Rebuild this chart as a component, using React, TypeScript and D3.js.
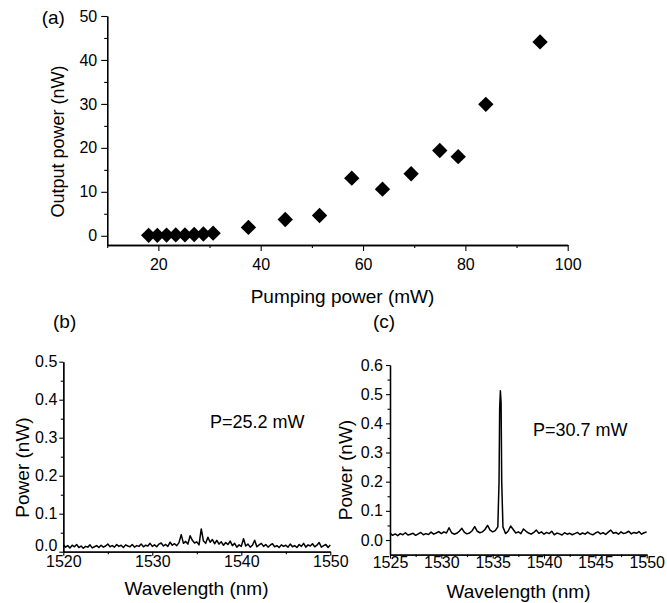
import React, { useEffect, useRef } from "react";
import {
  select,
  scaleLinear,
  axisBottom,
  axisLeft,
  line,
  range,
  symbol,
  symbolSquare,
} from "d3";

// (a) output power vs pumping power
const pumpPower = [18.1, 19.8, 21.6, 23.4, 25.2, 27.0, 28.8, 30.7, 37.6, 44.8, 51.5, 57.8, 63.8, 69.4, 75.0, 78.6, 84.0, 94.6];
const outputPower = [0.1, 0.1, 0.15, 0.2, 0.2, 0.3, 0.4, 0.6, 1.9, 3.7, 4.6, 13.1, 10.6, 14.1, 19.4, 18.0, 29.9, 44.1];

// (b) spectrum at P=25.2 mW, 1520..1550 nm every 0.25 nm
const specBStart = 1520;
const specBStep = 0.25;
const specB = [
  0.018, 0.012, 0.016, 0.010, 0.017, 0.013, 0.019, 0.011, 0.015, 0.009, 0.014, 0.012, 0.018, 0.010, 0.013, 0.016, 0.011, 0.017, 0.012, 0.015,
  0.020, 0.013, 0.016, 0.012, 0.019, 0.014, 0.017, 0.011, 0.018, 0.015, 0.013, 0.019, 0.012, 0.016, 0.014, 0.020, 0.013, 0.017, 0.015, 0.022,
  0.014, 0.018, 0.013, 0.020, 0.023, 0.015, 0.019, 0.014, 0.025, 0.017, 0.021, 0.016, 0.024, 0.045, 0.022, 0.027, 0.020, 0.042, 0.030, 0.023,
  0.026, 0.018, 0.060, 0.028, 0.022, 0.038, 0.025, 0.032, 0.021, 0.030, 0.020, 0.026, 0.017, 0.024, 0.019, 0.028, 0.016, 0.022, 0.012, 0.018,
  0.014, 0.034, 0.015, 0.020, 0.012, 0.017, 0.030, 0.013, 0.018, 0.022, 0.014, 0.019, 0.012, 0.017, 0.021, 0.013, 0.016, 0.011, 0.018, 0.014,
  0.017, 0.012, 0.020, 0.013, 0.016, 0.011, 0.019, 0.014, 0.022, 0.012, 0.018, 0.015, 0.021, 0.013, 0.017, 0.024, 0.012, 0.016, 0.019, 0.011, 0.018,
];

// (c) spectrum at P=30.7 mW, 1525..1550 nm every 0.25 nm, plus points on the lasing peak
const specCStart = 1525;
const specCStep = 0.25;
const specC = [
  0.024, 0.016, 0.021, 0.015, 0.022, 0.018, 0.025, 0.017, 0.020, 0.023, 0.016, 0.021, 0.026, 0.018, 0.022, 0.019, 0.027, 0.020, 0.024, 0.029,
  0.022, 0.028, 0.024, 0.042, 0.025, 0.020, 0.023, 0.030, 0.040, 0.026, 0.021, 0.024, 0.032, 0.046, 0.030, 0.025, 0.028, 0.036, 0.050, 0.034,
  0.028, 0.032, 0.045, 0.512, 0.045, 0.022, 0.030, 0.048, 0.036, 0.024, 0.028, 0.022, 0.038, 0.030, 0.024, 0.020, 0.026, 0.034, 0.023, 0.028,
  0.020, 0.026, 0.022, 0.030, 0.018, 0.024, 0.021, 0.017, 0.025, 0.020, 0.023, 0.018, 0.022, 0.026, 0.019, 0.024, 0.020, 0.027, 0.021, 0.018,
  0.024, 0.028, 0.021, 0.025, 0.019, 0.027, 0.034, 0.023, 0.026, 0.020, 0.028, 0.022, 0.025, 0.030, 0.021, 0.026, 0.023, 0.029, 0.020, 0.025, 0.028,
];
const peakWave = [1535.62, 1535.68, 1535.82, 1535.88];
const peakPower = [0.2, 0.45, 0.47, 0.2];

const font = "Arial, 'Liberation Sans', sans-serif";

function drawAxes(g, x, y, opt) {
  const { xMajor, xMinor, yMajor, yMinor, yFmt, xPad, yPad, big, small } = opt;
  const [y0] = y.range();
  const [x0] = x.range();
  const bx = g.append("g").attr("transform", `translate(0,${y0})`);
  bx.call(axisBottom(x).tickValues(xMinor).tickSize(small).tickSizeOuter(0).tickFormat(() => ""));
  bx.append("g").call(axisBottom(x).tickValues(xMajor).tickSize(big).tickSizeOuter(0).tickPadding(xPad).tickFormat((d) => `${d}`));
  const ly = g.append("g").attr("class", "yaxis").attr("transform", `translate(${x0},0)`);
  ly.call(axisLeft(y).tickValues(yMinor).tickSize(small).tickSizeOuter(0).tickFormat(() => ""));
  ly.append("g").call(axisLeft(y).tickValues(yMajor).tickSize(big).tickSizeOuter(0).tickPadding(yPad).tickFormat(yFmt));
  g.selectAll("path.domain").attr("stroke", "#000").attr("stroke-width", 1.3);
  g.selectAll(".tick line").attr("stroke", "#000").attr("stroke-width", 1.1);
  g.selectAll(".tick text").attr("font-family", font).attr("font-size", 16).attr("fill", "#000");
  return ly;
}

export default function App() {
  const ref = useRef(null);

  useEffect(() => {
    const svg = select(ref.current);
    svg.selectAll("g.axes").remove();

    // panel (a)
    const xa = scaleLinear().domain([10, 100]).range([107.2, 567.7]);
    const ya = scaleLinear().domain([-2.1, 50]).range([245, 16]);
    drawAxes(svg.append("g").attr("class", "axes"), xa, ya, {
      xMajor: [20, 40, 60, 80, 100],
      xMinor: [10, 30, 50, 70, 90],
      yMajor: range(0, 51, 10),
      yMinor: range(5, 50, 10),
      yFmt: (d) => `${d}`,
      xPad: 8,
      yPad: 4,
      big: 6,
      small: 3,
    });

    // panel (b)
    const xb = scaleLinear().domain([1520, 1550]).range([63.3, 330.3]);
    const yb = scaleLinear().domain([0, 0.5]).range([551.7, 361.7]);
    const lyb = drawAxes(svg.append("g").attr("class", "axes"), xb, yb, {
      xMajor: [1520, 1530, 1540, 1550],
      xMinor: [1525, 1535, 1545],
      yMajor: range(0, 0.51, 0.1),
      yMinor: range(0.05, 0.5, 0.1),
      yFmt: (d) => (+d).toFixed(1),
      xPad: 0,
      yPad: 2,
      big: 4,
      small: 2.5,
    });
    // keep the 0.0 label clear of the 1520 label
    lyb.selectAll(".tick text").filter((d) => d === 0).attr("dy", "-0.1em");

    // panel (c)
    const xc = scaleLinear().domain([1525, 1550]).range([390, 646.7]);
    const yc = scaleLinear().domain([-0.05, 0.6]).range([554.6, 365]);
    drawAxes(svg.append("g").attr("class", "axes"), xc, yc, {
      xMajor: range(1525, 1551, 5),
      xMinor: range(1527.5, 1550, 5),
      yMajor: range(0, 0.61, 0.1),
      yMinor: range(0.05, 0.6, 0.1),
      yFmt: (d) => (+d).toFixed(1),
      xPad: -2,
      yPad: 3,
      big: 4,
      small: 2.5,
    });
  }, []);

  const xa = scaleLinear().domain([10, 100]).range([107.2, 567.7]);
  const ya = scaleLinear().domain([-2.1, 50]).range([245, 16]);
  const xb = scaleLinear().domain([1520, 1550]).range([63.3, 330.3]);
  const yb = scaleLinear().domain([0, 0.5]).range([551.7, 361.7]);
  const xc = scaleLinear().domain([1525, 1550]).range([390, 646.7]);
  const yc = scaleLinear().domain([-0.05, 0.6]).range([554.6, 365]);

  const diamond = symbol(symbolSquare, 118)();

  const bPts = specB.map((p, i) => [specBStart + i * specBStep, p]);
  const cPts = specC
    .map((p, i) => [specCStart + i * specCStep, p])
    .concat(peakWave.map((w, i) => [w, peakPower[i]]))
    .sort((a, b) => a[0] - b[0]);

  const lineB = line().x((d) => xb(d[0])).y((d) => yb(d[1]));
  const lineC = line().x((d) => xc(d[0])).y((d) => yc(d[1]));

  const txt = { fontFamily: font, fill: "#000" };

  return (
    <svg
      ref={ref}
      width={667}
      height={603}
      style={{ position: "absolute", left: 0, top: 0, background: "#fff" }}
    >
      <rect width={667} height={603} fill="#fff" />

      {pumpPower.map((p, i) => (
        <path
          key={i}
          d={diamond}
          fill="#000"
          transform={`translate(${xa(p)},${ya(outputPower[i])}) rotate(45)`}
        />
      ))}
      <path d={lineB(bPts)} fill="none" stroke="#000" strokeWidth={1.5} strokeLinejoin="round" />
      <path d={lineC(cPts)} fill="none" stroke="#000" strokeWidth={1.5} strokeLinejoin="round" />

      <text x={41.7} y={24} fontSize={19} style={txt}>(a)</text>
      <text transform="translate(58,141.5) rotate(-90)" dy="0.35em" textAnchor="middle" fontSize={18} style={txt}>
        Output power (nW)
      </text>
      <text x={342.5} y={302.5} textAnchor="middle" fontSize={19} style={txt}>
        Pumping power (mW)
      </text>

      <text x={53} y={328} fontSize={19} style={txt}>(b)</text>
      <text transform="translate(22,467.5) rotate(-90)" dy="0.35em" textAnchor="middle" fontSize={19} style={txt}>
        Power (nW)
      </text>
      <text x={210} y={428} fontSize={18} style={txt}>P=25.2 mW</text>
      <text x={196.5} y={595} textAnchor="middle" fontSize={19} style={txt}>
        Wavelength (nm)
      </text>

      <text x={373} y={328} fontSize={19} style={txt}>(c)</text>
      <text transform="translate(345,470) rotate(-90)" dy="0.35em" textAnchor="middle" fontSize={19} style={txt}>
        Power (nW)
      </text>
      <text x={533} y={436} fontSize={18} style={txt}>P=30.7 mW</text>
      <text x={518.5} y={598} textAnchor="middle" fontSize={19} style={txt}>
        Wavelength (nm)
      </text>
    </svg>
  );
}
